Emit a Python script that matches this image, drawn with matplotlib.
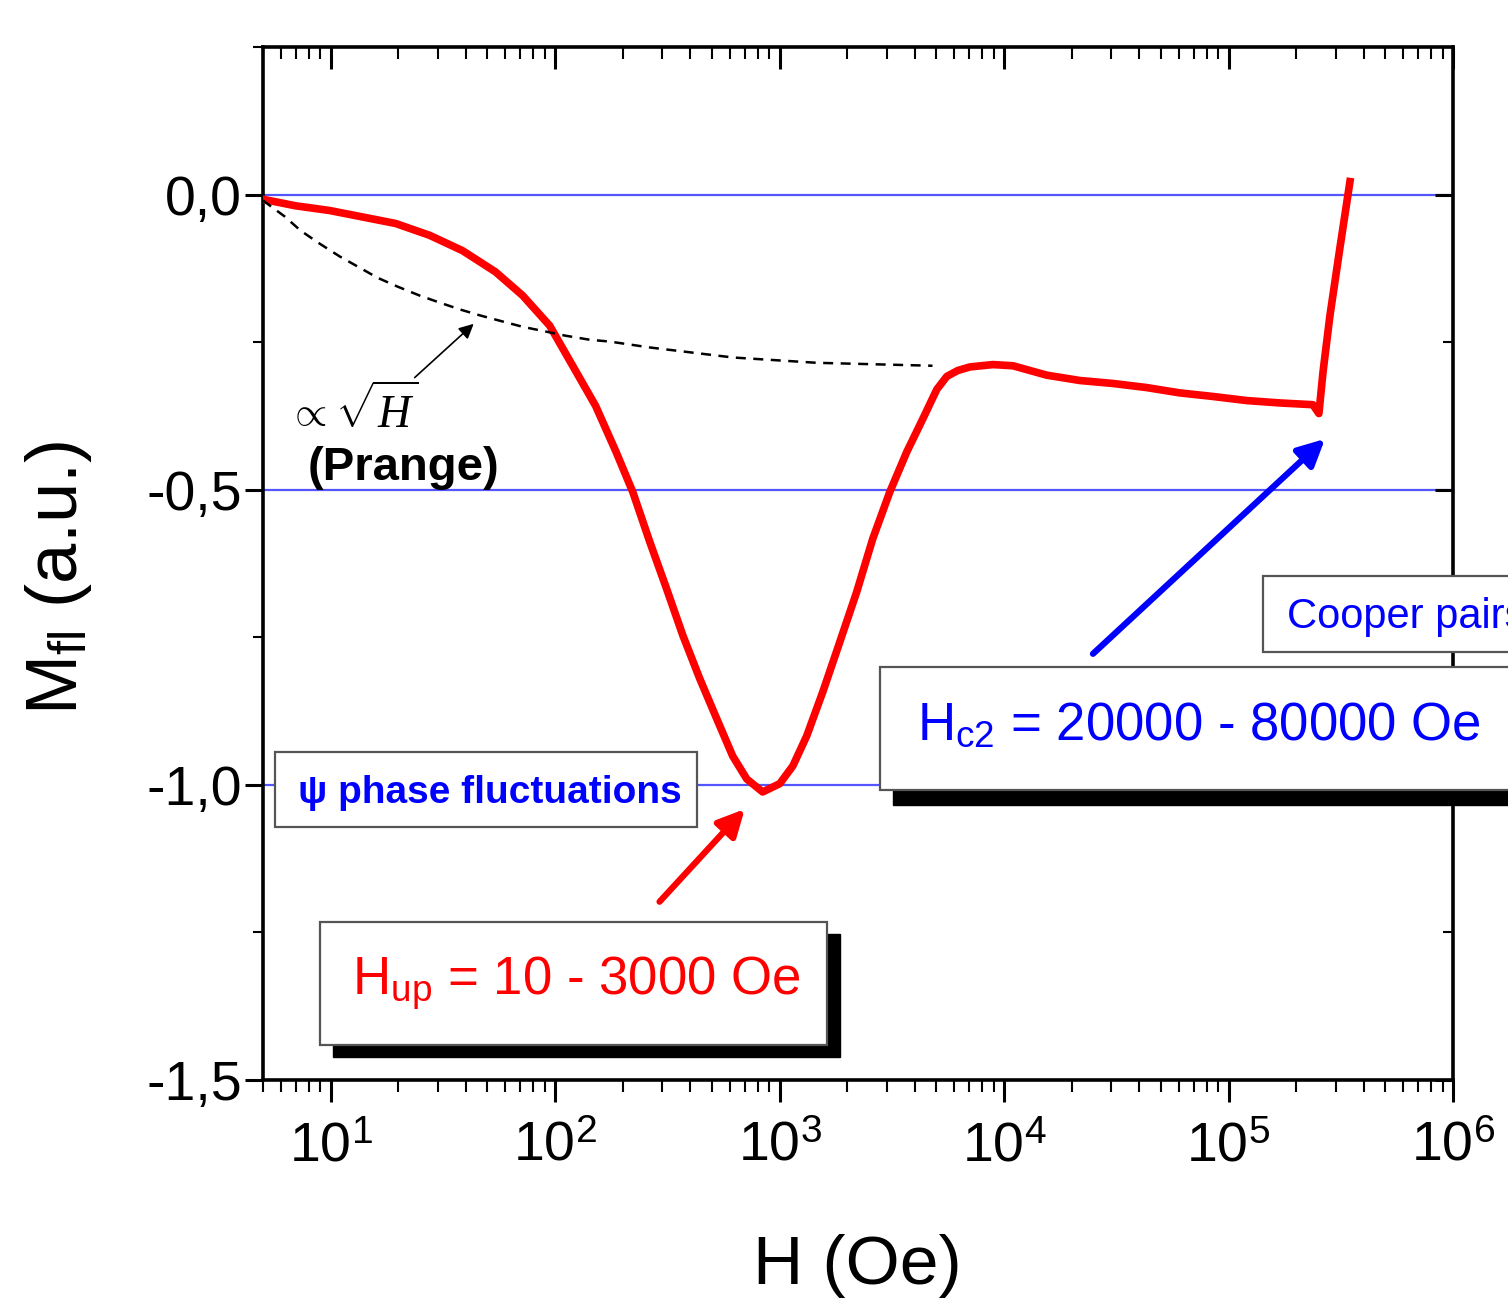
import matplotlib.pyplot as plt
from matplotlib.patches import Rectangle
from matplotlib.ticker import FixedLocator, LogLocator, MultipleLocator, NullFormatter

# fonts
plt.rcParams['mathtext.fontset'] = 'custom'
plt.rcParams['mathtext.rm'] = 'Liberation Sans'
plt.rcParams['mathtext.sf'] = 'Liberation Sans'
plt.rcParams['mathtext.it'] = 'Liberation Serif:italic'
SANS = ['Liberation Sans', 'DejaVu Sans']

# fluctuation magnetisation (red curve)
h_fl = [5, 6.98, 9.9, 13.9, 19.5, 27.6, 38.7, 54.3, 71.7, 94.6, 119.8, 151.6,
        187, 222, 264, 314, 371, 441, 525, 618, 714, 841, 1002, 1146, 1322,
        1560, 1855, 2207, 2602, 3097, 3687, 4347, 5020, 5563, 6227, 7045, 8918,
        10950, 13030, 15520, 21780, 30550, 43270, 60700, 85100, 120700, 169400,
        237600, 252700, 263700, 283000, 313000, 347500]
m_fl = [-0.008, -0.019, -0.027, -0.038, -0.049, -0.069, -0.095, -0.131, -0.171,
        -0.222, -0.290, -0.358, -0.436, -0.504, -0.588, -0.668, -0.747, -0.820,
        -0.888, -0.951, -0.990, -1.012, -0.998, -0.968, -0.917, -0.842, -0.758,
        -0.673, -0.583, -0.504, -0.436, -0.380, -0.330, -0.308, -0.298, -0.292,
        -0.288, -0.290, -0.298, -0.306, -0.315, -0.320, -0.327, -0.336, -0.342,
        -0.349, -0.353, -0.356, -0.371, -0.300, -0.205, -0.092, 0.022]

# Prange sqrt(H) law (dashed)
h_sqrt = [5, 6.24, 7.35, 8.93, 11.0, 13.5, 16.2, 19.9, 24.9, 30.6, 38.0, 46.6,
          58.4, 71.7, 90.8, 111, 143, 175, 264, 620, 1466, 4800]
m_sqrt = [-0.010, -0.037, -0.061, -0.083, -0.105, -0.124, -0.141, -0.156, -0.171,
          -0.183, -0.195, -0.205, -0.215, -0.224, -0.232, -0.239, -0.246, -0.249,
          -0.259, -0.276, -0.285, -0.290]

ref_levels = [0.0, -0.5, -1.0]
ytick_vals = [0.0, -0.5, -1.0, -1.5]
ytick_text = ['0,0', '-0,5', '-1,0', '-1,5']
xtick_exp = [1, 2, 3, 4, 5, 6]

W, H = 1508, 1306
fig = plt.figure(figsize=(W / 100, H / 100), dpi=100)
ax = fig.add_axes([263 / W, 1 - 1080 / H, 1190 / W, 1033 / H])

# reference lines and curves
for v in ref_levels:
    ax.axhline(v, color='#5555ff', lw=1.6, zorder=1)
ax.plot(h_fl, m_fl, color='#ff0000', lw=5.5, solid_joinstyle='round', zorder=3)
ax.plot(h_sqrt, m_sqrt, color='black', lw=1.8, ls=(0, (4, 3)), zorder=4)

ax.set_xscale('log')
ax.set_xlim(5, 1e6)
ax.set_ylim(-1.5, 0.25)

xmajor = [10.0 ** k for k in xtick_exp]
ax.xaxis.set_major_locator(FixedLocator(xmajor))
ax.xaxis.set_minor_locator(LogLocator(base=10, subs=range(2, 10), numticks=30))
ax.xaxis.set_minor_formatter(NullFormatter())
ax.set_xticklabels([rf'$10^{{{k}}}$' for k in xtick_exp])
ax.set_yticks(ytick_vals, ytick_text)
ax.yaxis.set_minor_locator(MultipleLocator(0.25))

for lbl in ax.get_xticklabels():
    lbl.set_fontsize(40)
for lbl in ax.get_yticklabels():
    lbl.set_fontsize(40)
    lbl.set_family(SANS)

for s in ax.spines.values():
    s.set_linewidth(2.6)
ax.tick_params(axis='x', which='major', direction='out', length=16, width=2.2, pad=12)
ax.tick_params(axis='x', which='minor', direction='out', length=8.5, width=1.5)
ax.tick_params(axis='y', which='major', direction='out', length=13, width=2.2, pad=2)
ax.tick_params(axis='y', which='minor', direction='out', length=7, width=1.5)

# top and right ticks point inward
ax_top = ax.twiny()
ax_top.set_xscale('log')
ax_top.set_xlim(ax.get_xlim())
ax_top.xaxis.set_major_locator(FixedLocator(xmajor))
ax_top.xaxis.set_minor_locator(LogLocator(base=10, subs=range(2, 10), numticks=30))
ax_top.tick_params(axis='x', which='major', direction='in', length=16, width=2.2, labeltop=False)
ax_top.tick_params(axis='x', which='minor', direction='in', length=8.5, width=1.5)
ax_right = ax.twinx()
ax_right.set_ylim(ax.get_ylim())
ax_right.set_yticks(ytick_vals)
ax_right.yaxis.set_minor_locator(MultipleLocator(0.25))
ax_right.tick_params(axis='y', which='major', direction='in', length=13, width=2.2, labelright=False)
ax_right.tick_params(axis='y', which='minor', direction='in', length=7, width=1.5)
for a in (ax_top, ax_right):
    for s in a.spines.values():
        s.set_visible(False)

# axis titles
fig.text(857 / W, 1 - 1266 / H, 'H (Oe)', fontsize=50, family=SANS, ha='center', va='center')
fig.text(58 / W, 1 - 578 / H, r'M$_{\mathsf{fl}}$ (a.u.)', fontsize=52, family=SANS,
         rotation=90, ha='center', va='center')

# Prange annotation
ax.annotate('', xy=(43.4, -0.219), xytext=(23.7, -0.310),
            arrowprops=dict(arrowstyle='-|>', color='black', lw=1.2,
                            mutation_scale=22, shrinkA=0, shrinkB=0))
fig.text(288 / W, 1 - 425 / H, r'$\propto$', fontsize=30, ha='left', va='baseline')
fig.text(335 / W, 1 - 428 / H, r'$\sqrt{\mathit{H}}$', fontsize=33, ha='left', va='baseline')
fig.text(308 / W, 1 - 480 / H, '(Prange)', fontsize=34, family=SANS, weight='bold',
         ha='left', va='baseline')

# arrows to the curve
ax.annotate('', xy=(700, -1.041), xytext=(292, -1.198),
            arrowprops=dict(arrowstyle='-|>', color='#ff0000', lw=4.5,
                            mutation_scale=40, shrinkA=0, shrinkB=0))
ax.annotate('', xy=(269000, -0.414), xytext=(24900, -0.778),
            arrowprops=dict(arrowstyle='-|>', color='#0000ff', lw=4.5,
                            mutation_scale=40, shrinkA=0, shrinkB=0))


def px_box(x0, y0, x1, y1, **kw):
    return Rectangle((x0 / W, 1 - y1 / H), (x1 - x0) / W, (y1 - y0) / H,
                     transform=fig.transFigure, **kw)


box_style = dict(facecolor='white', edgecolor='#555555', lw=1.6, zorder=2)

# psi phase fluctuations
fig.add_artist(px_box(275, 752, 697, 827, **box_style))
fig.text(298 / W, 1 - 803 / H, 'ψ phase fluctuations', fontsize=28, family=SANS,
         weight='bold', color='#0000ff', ha='left', va='baseline', zorder=3)

# H_up
fig.add_artist(px_box(333, 934, 840, 1057, facecolor='black', edgecolor='black', zorder=1))
fig.add_artist(px_box(320, 922, 827, 1045, **box_style))
fig.text(352 / W, 1 - 995 / H, r'$\mathrm{H}_{\mathrm{up}}$ = 10 - 3000 Oe', fontsize=38,
         family=SANS, color='#ff0000', ha='left', va='baseline', zorder=3)

# H_c2
fig.add_artist(px_box(893, 681, 1530, 805, facecolor='black', edgecolor='black', zorder=1))
fig.add_artist(px_box(880, 667, 1530, 790, **box_style))
fig.text(917 / W, 1 - 740 / H, r'$\mathrm{H}_{\mathrm{c2}}$ = 20000 - 80000 Oe', fontsize=38,
         family=SANS, color='#0000ff', ha='left', va='baseline', zorder=3)

# Cooper pairs
fig.add_artist(px_box(1263, 576, 1530, 652, **box_style))
fig.text(1287 / W, 1 - 628 / H, 'Cooper pairs', fontsize=30, family=SANS,
         color='#0000ff', ha='left', va='baseline', zorder=3)

fig.savefig('out.png', dpi=100)
